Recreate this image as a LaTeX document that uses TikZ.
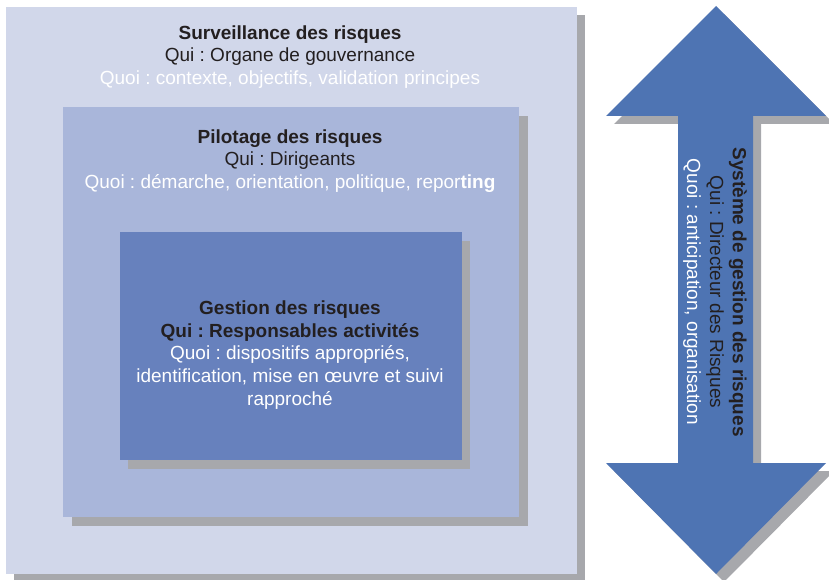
\documentclass[tikz,border=0pt]{standalone}
\usepackage{fontspec}
\setmainfont{Liberation Sans}
\frenchspacing
\definecolor{outerc}{HTML}{D1D7EA}
\definecolor{midc}{HTML}{A9B6DA}
\definecolor{innerc}{HTML}{6781BD}
\definecolor{arrowc}{HTML}{4E74B3}
\definecolor{shadowc}{HTML}{A7A8AC}
\definecolor{darkt}{HTML}{231F20}
\begin{document}
\begin{tikzpicture}[x=1bp,y=-1bp,
  txt/.style={align=center, inner sep=0pt, text=darkt, font=\fontsize{19bp}{22.8bp}\selectfont},
  shadowbox/.style={fill=shadowc},
  arrowshape/.style={fill=arrowc}]
\useasboundingbox (0,0) rectangle (829,580);
\clip (0,0) rectangle (829,580);
% outer box
\fill[shadowbox] (14,15) rectangle (585,582);
\fill[outerc] (6,7) rectangle (577,574);
% middle box
\fill[shadowbox] (72,116) rectangle (528,526);
\fill[midc] (63,107) rectangle (519,517);
% inner box
\fill[shadowbox] (128,241) rectangle (470,469);
\fill[innerc] (120,232) rectangle (462,460);
% double arrow
\fill[shadowbox, shift={(8,8)}] (716,6) -- (826,116) -- (753,116) -- (753,463) -- (826,463) -- (716,574) -- (606,463) -- (678,463) -- (678,116) -- (606,116) -- cycle;
\fill[arrowshape] (716,6) -- (826,116) -- (753,116) -- (753,463) -- (826,463) -- (716,574) -- (606,463) -- (678,463) -- (678,116) -- (606,116) -- cycle;
% texts
\node[txt] (surv) at (290,57) {\textbf{Surveillance des risques}\\Qui : Organe de gouvernance\\\textcolor{white}{Quoi : contexte, objectifs, validation principes}};
\node[txt] (pilot) at (290,161) {\textbf{Pilotage des risques}\\Qui : Dirigeants\\\textcolor{white}{Quoi : démarche, orientation, politique, repor\textbf{ting}}};
\node[txt] (gest) at (290,355) {\textbf{Gestion des risques}\\\textbf{Qui : Responsables activités}\\\textcolor{white}{Quoi : dispositifs appropriés,}\\\textcolor{white}{identification, mise en œuvre et suivi}\\\textcolor{white}{rapproché}};
\node[txt, rotate=-90] (sys) at (715,292) {\textbf{Système de gestion des risques}\\Qui : Directeur des Risques\\\textcolor{white}{Quoi : anticipation, organisation}};
\end{tikzpicture}
\end{document}
